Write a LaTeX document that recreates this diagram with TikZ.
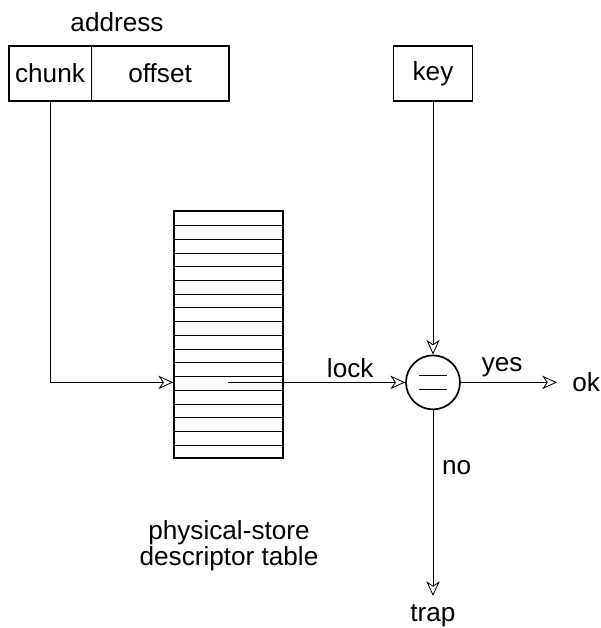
\documentclass[tikz,border=0pt]{standalone}
\usepackage{fontspec}
\setmainfont{Liberation Sans}
\usetikzlibrary{arrows.meta,positioning}

\begin{document}
\begin{tikzpicture}[
	box/.style={draw, line width=1.2pt, minimum height=1.375cm, inner sep=0pt},
	field/.style={minimum height=1.375cm, inner sep=0pt},
	flow/.style={line width=0.6pt, -{Stealth[open,length=10.5pt,width=9.5pt,inset=3.2pt]}},
	font=\fontsize{18.6}{18.4}\selectfont
	]
	\useasboundingbox (0,0) rectangle (15,15.7);
	
	% 画地址寄存器,左边 chunk,右边 offset
	\node[field, minimum width=2.05cm] (chunk) at (1.25,13.8625) {chunk};
	\node[field, minimum width=3.425cm, right=0pt of chunk] (offset) {offset};
	\draw[line width=1.2pt] (chunk.north west) rectangle (offset.south east);
	\draw[line width=0.6pt] (chunk.north east) -- (chunk.south east); % 中间分隔线
	\node (address) at (2.925,15.15) {address};
	
	% 画 key 寄存器
	\node[box, minimum width=1.975cm] (key) at (10.825,13.8625) {key};
	
	% 画描述符表,共 18 行
	\node[draw, line width=1.2pt, minimum width=2.725cm, minimum height=6.175cm] (table) at (5.7125,7.3375) {};
	\foreach \i in {1,...,17}
		\draw[line width=0.6pt] ([yshift=\i*0.343cm]table.south west) -- ([yshift=\i*0.343cm]table.south east);
	\node[align=center] (tablename) at (5.725,2.05) {physical-store\\descriptor table};
	
	% 比较器,圆里画一个等号
	\node[draw, circle, line width=1.2pt, minimum size=1.35cm, inner sep=0pt] (eq) at (10.825,6.14) {};
	\draw[line width=0.8pt] ([xshift=-0.35cm,yshift=0.17cm]eq.center) -- ++(0.7,0);
	\draw[line width=0.8pt] ([xshift=-0.35cm,yshift=-0.17cm]eq.center) -- ++(0.7,0);
	
	% 输出
	\node[anchor=west, inner sep=0pt] (ok) at (14.3,6.14) {ok};
	\node[anchor=north, inner ysep=0.22cm] (trap) at (10.825,0.8) {trap};
	
	% 连线
	\coordinate (lockout) at (5.7,6.14);
	\draw[flow] (chunk.south) |- (table.west |- lockout);
	\draw[flow] (lockout) -- node[above, pos=0.69] {lock} (eq.west);
	\draw[flow] (key.south) -- (eq.north);
	\draw[flow] (eq.east) -- node[above, pos=0.43] {yes} ([xshift=-0.375cm]ok.west);
	\draw[flow] (eq.south) -- node[right, pos=0.31, xshift=0.1cm] {no} (trap.north);
\end{tikzpicture}
\end{document}
